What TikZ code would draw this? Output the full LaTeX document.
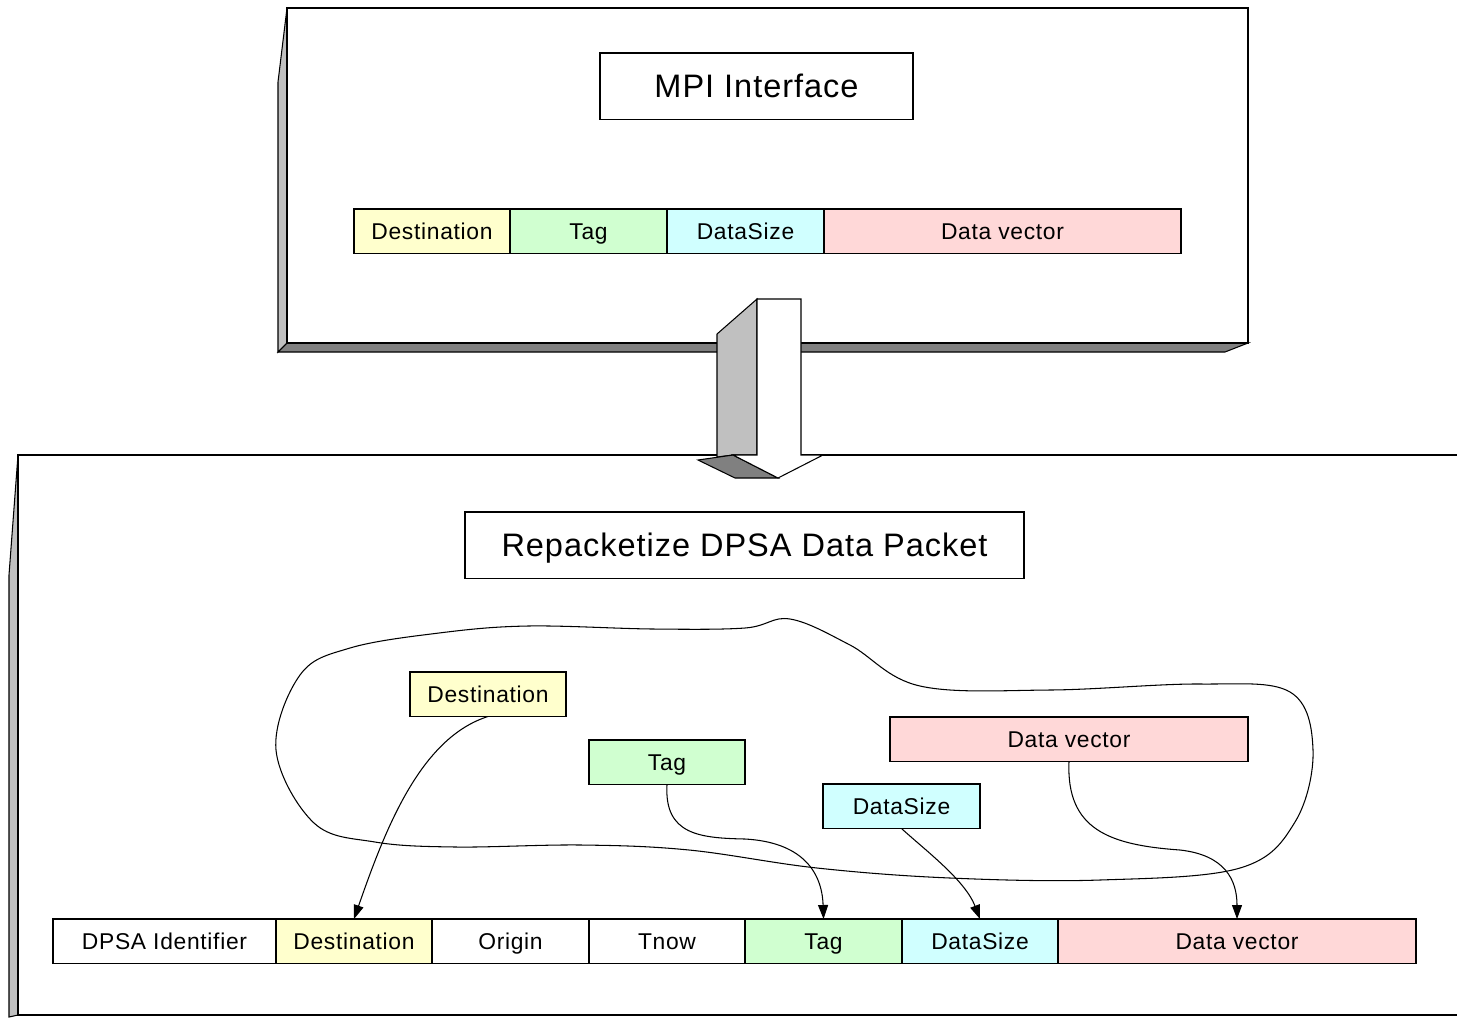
\documentclass[tikz,border=0pt]{standalone}
\usepackage{fontspec}
\setmainfont{Liberation Sans}[LetterSpace=3]
\usetikzlibrary{positioning,arrows.meta}
\definecolor{destfill}{RGB}{255,255,205}
\definecolor{tagfill}{RGB}{208,255,208}
\definecolor{sizefill}{RGB}{208,255,255}
\definecolor{datafill}{RGB}{255,216,216}
\definecolor{lightshade}{RGB}{192,192,192}
\definecolor{darkshade}{RGB}{128,128,128}
\tikzset{
  field/.style={draw, line width=0.8pt, inner sep=0pt, outer sep=0pt,
    minimum height=8.9mm, text height=9.3pt, text depth=0pt,
    font=\fontsize{13}{15}\selectfont},
  title/.style={draw, line width=0.6pt, inner sep=0pt, outer sep=0pt,
    minimum height=13.3mm, text height=13.2pt, text depth=0pt,
    font=\fontsize{18.5}{22}\selectfont},
  link/.style={line width=0.6pt, -{Triangle[length=2.8mm,width=2mm]}},
  shade/.style={draw, line width=0.6pt}
}
\begin{document}
\begin{tikzpicture}[x=0.2mm, y=-0.2mm]
\useasboundingbox (0,0) rectangle (1457,1017);

% upper panel
\draw[shade, fill=lightshade] (287,8) -- (278,82) -- (278,352) -- (287,343) -- cycle;
\draw[shade, fill=darkshade] (278,352) -- (287,343) -- (1248,343) -- (1225,352) -- cycle;
\draw[line width=0.8pt, fill=white] (287,8) rectangle (1248,343);

% lower panel
\draw[shade, fill=lightshade] (18,455) -- (9,575) -- (9,1017) -- (18,1015) -- cycle;
\draw[line width=0.8pt] (1457,455) -- (18,455) -- (18,1015) -- (1457,1015);

% block arrow
\draw[shade, fill=lightshade] (717,334) -- (757,299) -- (757,455) -- (733,455) -- (717,457) -- cycle;
\draw[shade, fill=darkshade] (698,460) -- (733,455) -- (778,478) -- (735,478) -- cycle;
\draw[shade, fill=white] (757,299) -- (801,299) -- (801,455) -- (823,455) -- (778,478) -- (733,455) -- (757,455) -- cycle;

\node[title, anchor=north west, minimum width=62.6mm] (mpi) at (600,53) {MPI Interface};
\node[field, anchor=north west, minimum width=31.2mm, fill=destfill] (fdest) at (354,209) {Destination};
\node[field, right=0pt of fdest, minimum width=31.4mm, fill=tagfill] (ftag) {Tag};
\node[field, right=0pt of ftag, minimum width=31.4mm, fill=sizefill] (fsize) {DataSize};
\node[field, right=0pt of fsize, minimum width=71.4mm, fill=datafill] (fdata) {Data vector};

\node[title, anchor=north west, minimum width=111.8mm] (repack) at (465,512) {Repacketize DPSA Data Packet};

\draw[line width=0.6pt] plot[smooth cycle, tension=0.6] coordinates {
  (745,628) (790,619) (850,645) (920,686) (1050,690) (1200,684) (1290,692)
  (1313,750) (1295,822) (1240,868) (1100,880) (950,878) (817,868) (689,850)
  (581,845) (456,847) (375,842) (314,823) (276,750) (300,675) (350,648)
  (439,633) (528,626) (653,629)};

\node[field, anchor=north west, minimum width=31.2mm, fill=destfill] (pdest) at (410,672) {Destination};
\node[field, anchor=north west, minimum width=31.2mm, fill=tagfill] (ptag) at (589,740) {Tag};
\node[field, anchor=north west, minimum width=71.6mm, fill=datafill] (pdata) at (890,717) {Data vector};
\node[field, anchor=north west, minimum width=31.4mm, fill=sizefill] (psize) at (823,784) {DataSize};

\node[field, anchor=north west, minimum width=44.6mm] (rid) at (53,919) {DPSA Identifier};
\node[field, right=0pt of rid, minimum width=31.2mm, fill=destfill] (rdest) {Destination};
\node[field, right=0pt of rdest, minimum width=31.4mm] (rorig) {Origin};
\node[field, right=0pt of rorig, minimum width=31.2mm] (rtnow) {Tnow};
\node[field, right=0pt of rtnow, minimum width=31.4mm, fill=tagfill] (rtag) {Tag};
\node[field, right=0pt of rtag, minimum width=31.2mm, fill=sizefill] (rsize) {DataSize};
\node[field, right=0pt of rsize, minimum width=71.6mm, fill=datafill] (rdata) {Data vector};

\draw[link] (pdest.south) .. controls (420,738) and (385,830) .. (rdest.north);
\draw[link] (ptag.south) .. controls (664,835) and (700,838) .. (745,839)
  .. controls (800,842) and (822,870) .. (rtag.north);
\draw[link] (psize.south) .. controls (925,850) and (965,880) .. (rsize.north);
\draw[link] (pdata.south) .. controls (1066,830) and (1110,845) .. (1180,850)
  .. controls (1225,855) and (1237,880) .. (rdata.north);
\end{tikzpicture}
\end{document}
